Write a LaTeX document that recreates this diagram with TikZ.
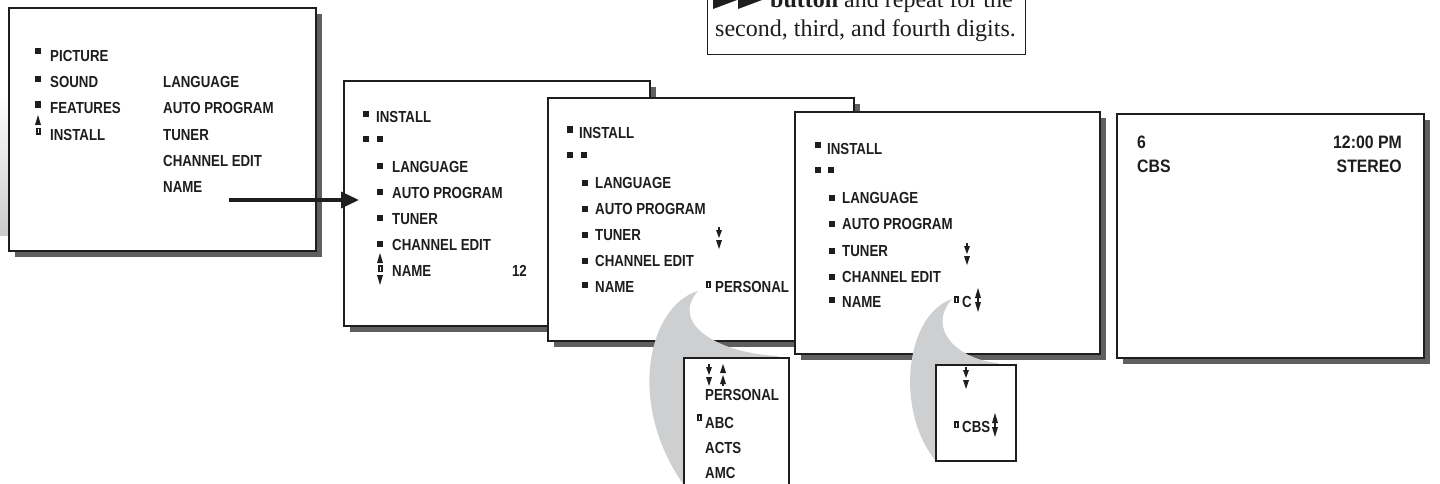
\documentclass[tikz,border=0pt]{standalone}
\usepackage{fontspec}
\setmainfont{Liberation Serif}
\newfontfamily\osdfont[FakeStretch=0.83]{Liberation Sans}
\newfontfamily\tvfont[FakeStretch=0.88]{Liberation Sans}
\usetikzlibrary{arrows.meta,shadows}
\definecolor{shadowgray}{RGB}{95,95,95}
\definecolor{swooshgray}{RGB}{206,207,209}
\definecolor{ink}{RGB}{30,30,30}
\begin{document}
\begin{tikzpicture}[x=1pt,y=-1pt,
  screen/.style={draw=ink,line width=1.8pt,fill=white,inner sep=0pt,anchor=north west,
    drop shadow={shadow xshift=6pt,shadow yshift=-6pt,fill=shadowgray,opacity=1}},
  popbox/.style={draw=ink,line width=1.6pt,fill=white},
  osd/.style={font=\osdfont\bfseries\fontsize{16}{17}\selectfont,text=ink,inner sep=0pt,anchor=base west},
  osdr/.style={osd,anchor=base east},
  tv/.style={font=\tvfont\bfseries\fontsize{18}{19}\selectfont,text=ink,inner sep=0pt,anchor=base west},
  tvr/.style={tv,anchor=base east},
  note/.style={font=\fontsize{24}{26}\selectfont,text=ink,inner sep=0pt,anchor=base west},
  conn/.style={draw=ink,line width=3.5pt,-{Triangle[length=18pt,width=16pt]}},
  swoosh/.style={fill=swooshgray,draw=none},
  bul/.style={fill=ink},
  uptri/.pic={\fill[ink] (0,10) -- (3,0) -- (6,10) -- cycle;},
  downtri/.pic={\fill[ink] (0,0) -- (6,0) -- (3,10) -- cycle;},
  selicon/.pic={\fill[ink] (0,0) rectangle (5,7); \fill[white] (2,1.5) rectangle (3,5.5);},
  dbldown/.pic={\fill[ink] (2.3,0) rectangle (3.7,3); \fill[ink] (0,3) -- (6,3) -- (3,11) -- cycle;
     \fill[ink] (0,13) -- (6,13) -- (3,22) -- cycle;},
  dblup/.pic={\fill[ink] (0,9) -- (3,0) -- (6,9) -- cycle; \fill[ink] (0,20) -- (3,11) -- (6,20) -- cycle;
     \fill[ink] (2.3,19) rectangle (3.7,22);},
  updown/.pic={\fill[ink] (0,10) -- (3,0) -- (6,10) -- cycle; \fill[ink] (2.4,9) rectangle (3.6,15);
     \fill[ink] (0,14) -- (6,14) -- (3,24) -- cycle;}
]
\useasboundingbox (0,0) rectangle (1440,484);
\clip (0,0) rectangle (1440,484);

% left-edge grey remnant
\shade[top color=white,bottom color=gray!40] (0,93) rectangle (8,235);

% callout box
\node[draw=ink,line width=1.2pt,fill=white,inner sep=0pt,anchor=north west,minimum width=318pt,minimum height=90pt] (callout) at (707,-36) {};
\fill[ink] (713,-9) -- (737,0) -- (713,9) -- cycle;
\fill[ink] (738,-9) -- (762,0) -- (738,9) -- cycle;
\node[note] (cl1) at (770,8) {\textbf{button} and repeat for the};
\node[note] (cl2) at (715,37) {second, third, and fourth digits.};

% ---------- screen 1 ----------
\node[screen,minimum width=307pt,minimum height=243pt] (s1) at (8,7) {};
\fill[bul] (35,48) rectangle (41,54);
\fill[bul] (35,76) rectangle (41,82);
\fill[bul] (35,101) rectangle (41,108);
\pic at (35,115) {uptri};
\pic at (35.5,128) {selicon};
\node[osd] (s1a) at (50,62) {PICTURE};
\node[osd] (s1b) at (50,88) {SOUND};
\node[osd] (s1c) at (50,114) {FEATURES};
\node[osd] (s1d) at (50,140) {INSTALL};
\node[osd] (s1e) at (163,88) {LANGUAGE};
\node[osd] (s1f) at (163,114) {AUTO PROGRAM};
\node[osd] (s1g) at (163,140) {TUNER};
\node[osd] (s1h) at (163,166) {CHANNEL EDIT};
\node[osd] (s1i) at (163,192) {NAME};

% ---------- screen 2 ----------
\node[screen,minimum width=306pt,minimum height=245pt] (s2) at (343,80) {};
\fill[bul] (363,111) rectangle (369,117);
\node[osd] (s2a) at (376,123) {INSTALL};
\fill[bul] (363,136) rectangle (369,142);
\fill[bul] (377,136) rectangle (383,142);
\fill[bul] (377,163) rectangle (383,169);
\fill[bul] (377,189) rectangle (383,195);
\fill[bul] (377,215) rectangle (383,221);
\fill[bul] (377,241) rectangle (383,247);
\pic at (377,253) {uptri};
\pic at (377.5,265) {selicon};
\pic at (377,275) {downtri};
\node[osd] (s2b) at (392,172) {LANGUAGE};
\node[osd] (s2c) at (392,198) {AUTO PROGRAM};
\node[osd] (s2d) at (392,224) {TUNER};
\node[osd] (s2e) at (392,250) {CHANNEL EDIT};
\node[osd] (s2f) at (392,276) {NAME};
\node[osdr] (s2g) at (527,276) {12};

% arrow from screen 1 to screen 2
\coordinate (aS) at (229,200);
\coordinate (aE) at (359,200);
\draw[conn] (aS) -- (aE);

% ---------- screen 3 ----------
\node[screen,minimum width=306pt,minimum height=243pt] (s3) at (547,97) {};
\fill[bul] (567,126) rectangle (573,133);
\node[osd] (s3a) at (579,139) {INSTALL};
\fill[bul] (567,152) rectangle (573,158);
\fill[bul] (581,152) rectangle (587,158);
\fill[bul] (582,179.5) rectangle (588,185.5);
\fill[bul] (582,205.5) rectangle (588,211.5);
\fill[bul] (582,231.5) rectangle (588,237.5);
\fill[bul] (582,257.5) rectangle (588,263.5);
\fill[bul] (582,281.5) rectangle (588,287.5);
\node[osd] (s3b) at (595,188) {LANGUAGE};
\node[osd] (s3c) at (595,214) {AUTO PROGRAM};
\node[osd] (s3d) at (595,240) {TUNER};
\node[osd] (s3e) at (595,266) {CHANNEL EDIT};
\node[osd] (s3f) at (595,292) {NAME};
\pic at (716,227) {dbldown};
\pic at (706,281) {selicon};
\node[osd] (s3g) at (715,292) {PERSONAL};

% swoosh 1 and pop-up list
\path[swoosh] (698,291) .. controls (650,305) and (625,400) .. (683,484)
   -- (778,484) -- (778,356) .. controls (715,353) and (670,322) .. (698,291) -- cycle;
\node[popbox,inner sep=0pt,anchor=north west,minimum width=105pt,minimum height=150pt] (p1) at (683,357) {};
\pic at (706,364) {dbldown};
\pic at (720,364) {dblup};
\node[osd] (p1a) at (705,400) {PERSONAL};
\pic at (697,414) {selicon};
\node[osd] (p1b) at (705,428) {ABC};
\node[osd] (p1c) at (705,453) {ACTS};
\node[osd] (p1d) at (705,478) {AMC};

% ---------- screen 4 ----------
\node[screen,minimum width=305pt,minimum height=242pt] (s4) at (794,111) {};
\fill[bul] (815,142) rectangle (821,148);
\node[osd] (s4a) at (827,154) {INSTALL};
\fill[bul] (815,167) rectangle (821,173);
\fill[bul] (828,167) rectangle (834,173);
\fill[bul] (829,194.5) rectangle (835,200.5);
\fill[bul] (829,220.5) rectangle (835,226.5);
\fill[bul] (829,247.5) rectangle (835,253.5);
\fill[bul] (829,273.5) rectangle (835,279.5);
\fill[bul] (829,296.5) rectangle (835,302.5);
\node[osd] (s4b) at (842,203) {LANGUAGE};
\node[osd] (s4c) at (842,229) {AUTO PROGRAM};
\node[osd] (s4d) at (842,256) {TUNER};
\node[osd] (s4e) at (842,282) {CHANNEL EDIT};
\node[osd] (s4f) at (842,307) {NAME};
\pic at (964,243) {dbldown};
\pic at (953.5,296) {selicon};
\node[osd] (s4g) at (962,307) {C};
\pic at (975,288) {updown};

% swoosh 2 and pop-up
\path[swoosh] (952,299) .. controls (905,315) and (895,410) .. (935,460)
   -- (998,460) -- (998,363) .. controls (960,360) and (925,330) .. (952,299) -- cycle;
\node[popbox,inner sep=0pt,anchor=north west,minimum width=80pt,minimum height=96pt] (p2) at (935,364) {};
\pic at (963,367) {dbldown};
\pic at (953.5,421) {selicon};
\node[osd] (p2a) at (962,432) {CBS};
\pic at (992,413) {updown};

% ---------- screen 5 ----------
\node[screen,minimum width=307pt,minimum height=244pt] (s5) at (1116,113) {};
\node[tv] (s5a) at (1137,149) {6};
\node[tv] (s5b) at (1137,172) {CBS};
\node[tvr] (s5c) at (1402,149) {12:00 PM};
\node[tvr] (s5d) at (1402,172) {STEREO};
\end{tikzpicture}
\end{document}
